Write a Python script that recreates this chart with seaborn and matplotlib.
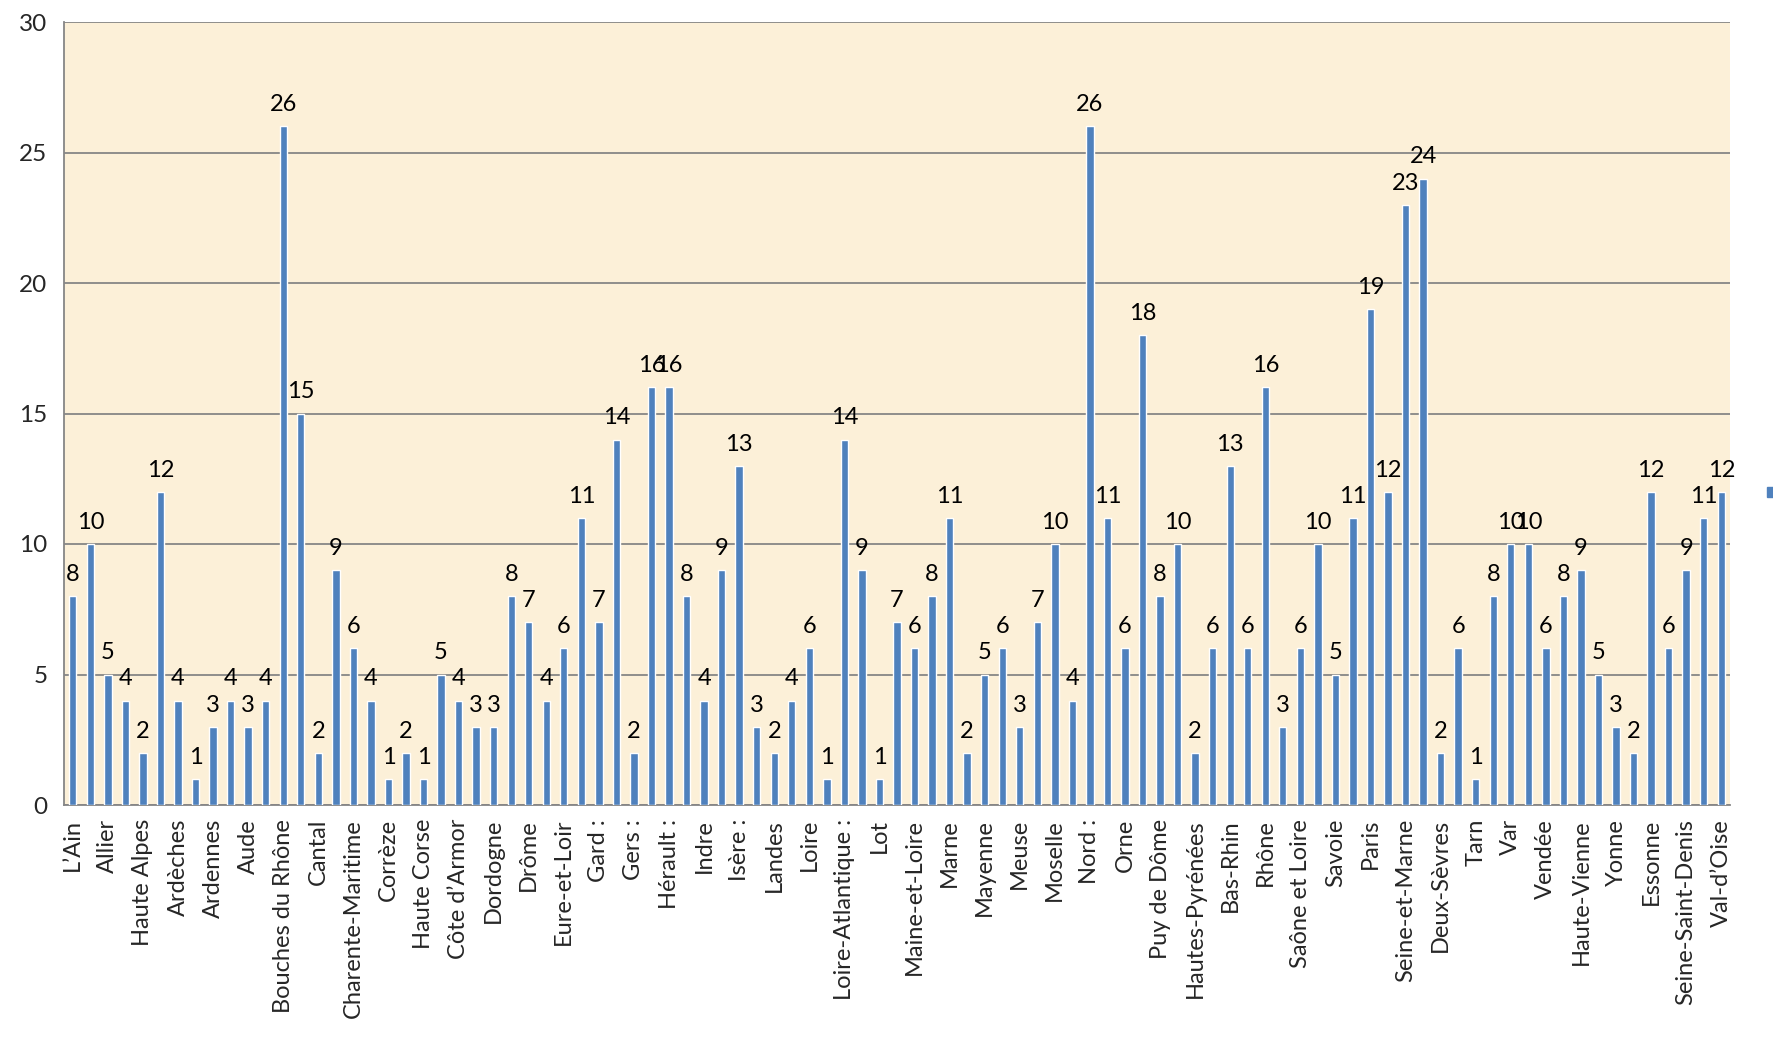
import matplotlib
matplotlib.use("Agg")
import matplotlib.pyplot as plt
import seaborn as sns
import pandas as pd
from matplotlib.patches import Patch

# departements (only every second name is shown on the axis, as in the source chart)
departements = [
    "L’Ain", "Aisne", "Allier", "Alpes-de-Haute-Provence", "Haute Alpes",
    "Alpes-Maritimes", "Ardèches", "Ariège", "Ardennes", "Aube",
    "Aude", "Aveyron", "Bouches du Rhône", "Calvados", "Cantal",
    "Charente", "Charente-Maritime", "Cher", "Corrèze", "Corse-du-Sud",
    "Haute Corse", "Côte-d’Or", "Côte d’Armor", "Creuse", "Dordogne",
    "Doubs", "Drôme", "Eure", "Eure-et-Loir", "Finistère",
    "Gard :", "Haute-Garonne", "Gers :", "Gironde", "Hérault :",
    "Ille-et-Vilaine", "Indre", "Indre-et-Loire", "Isère :", "Jura",
    "Landes", "Loir-et-Cher", "Loire", "Haute-Loire", "Loire-Atlantique :",
    "Loiret", "Lot", "Lot-et-Garonne", "Maine-et-Loire", "Manche",
    "Marne", "Haute-Marne", "Mayenne", "Meurthe-et-Moselle", "Meuse",
    "Morbihan", "Moselle", "Nièvre", "Nord :", "Oise",
    "Orne", "Pas-de-Calais", "Puy de Dôme", "Pyrénées-Atlantiques", "Hautes-Pyrénées",
    "Pyrénées-Orientales", "Bas-Rhin", "Haut-Rhin", "Rhône", "Haute-Saône",
    "Saône et Loire", "Sarthe", "Savoie", "Haute-Savoie", "Paris",
    "Seine-Maritime", "Seine-et-Marne", "Yvelines", "Deux-Sèvres", "Somme",
    "Tarn", "Tarn-et-Garonne", "Var", "Vaucluse", "Vendée",
    "Vienne", "Haute-Vienne", "Vosges", "Yonne", "Territoire de Belfort",
    "Essonne", "Hauts-de-Seine", "Seine-Saint-Denis", "Val-de-Marne", "Val-d’Oise",
]
valeurs = [
    8, 10, 5, 4, 2, 12, 4, 1, 3, 4,
    3, 4, 26, 15, 2, 9, 6, 4, 1, 2,
    1, 5, 4, 3, 3, 8, 7, 4, 6, 11,
    7, 14, 2, 16, 16, 8, 4, 9, 13, 3,
    2, 4, 6, 1, 14, 9, 1, 7, 6, 8,
    11, 2, 5, 6, 3, 7, 10, 4, 26, 11,
    6, 18, 8, 10, 2, 6, 13, 6, 16, 3,
    6, 10, 5, 11, 19, 12, 23, 24, 2, 6,
    1, 8, 10, 10, 6, 8, 9, 5, 3, 2,
    12, 6, 9, 11, 12,
]
y_ticks = [0, 5, 10, 15, 20, 25, 30]

df = pd.DataFrame({"Département": departements, "Nombre": valeurs})

sns.set_style("white")
plt.rcParams["font.family"] = ["Lato", "DejaVu Sans"]

fig = plt.figure(figsize=(17.73, 10.37), dpi=100)
ax = fig.add_axes([64 / 1773, 1 - 805 / 1037, (1730 - 64) / 1773, (805 - 22) / 1037])
ax.set_facecolor("#FCF0D8")

sns.barplot(data=df, x="Département", y="Nombre", color="#4F81BD",
            width=0.42, saturation=1, ax=ax, zorder=3)
ax.bar_label(ax.containers[0], fontsize=17, padding=8, color="black")

n = len(departements)
ax.set_xlim(-0.5, n - 0.5)
ax.set_ylim(0, 30)
ax.set_yticks(y_ticks)
ax.yaxis.grid(True, color="#868686", linewidth=1.3, zorder=0)
ax.set_axisbelow(True)

ax.set_xticks(range(n))
ax.set_xticklabels([d if i % 2 == 0 else "" for i, d in enumerate(departements)],
                   rotation=90, fontsize=17)
ax.set_xticks([i - 0.5 for i in range(n + 1)], minor=True)
ax.tick_params(axis="x", which="major", length=0, pad=10)
ax.tick_params(axis="x", which="minor", length=5, width=1.2, color="#868686")
ax.tick_params(axis="y", length=5, width=1.2, color="#868686", labelsize=17.5, pad=7)
ax.set_xlabel("")
ax.set_ylabel("")

for side in ["top", "right"]:
    ax.spines[side].set_visible(False)
for side in ["left", "bottom"]:
    ax.spines[side].set_color("#868686")
    ax.spines[side].set_linewidth(1.3)

fig.legend(handles=[Patch(color="#4F81BD")], labels=[""], loc="center left",
           bbox_to_anchor=(1760 / 1773, 1 - 493 / 1037), frameon=False,
           handlelength=0.75, handleheight=0.75, borderpad=0, handletextpad=0)

fig.savefig("out.png", dpi=100)
